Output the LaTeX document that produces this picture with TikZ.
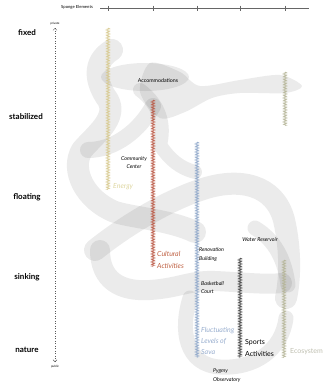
\documentclass[tikz,border=0pt]{standalone}
\usepackage{fontspec}
\setmainfont{Lato}
\usetikzlibrary{arrows.meta,decorations.pathmorphing}

\definecolor{energycol}{RGB}{214,200,140}
\definecolor{culturecol}{RGB}{185,85,65}
\definecolor{savacol}{RGB}{140,165,200}
\definecolor{ecocol}{RGB}{180,180,150}
\definecolor{energytxt}{RGB}{222,214,160}
\definecolor{culturetxt}{RGB}{190,95,65}
\definecolor{savatxt}{RGB}{150,172,205}
\definecolor{ecotxt}{RGB}{190,190,175}

\tikzstyle{level} = [
        font=\fontsize{8}{9}\selectfont\bfseries,
        inner sep=0pt
    ]
\tikzstyle{small} = [
        font=\fontsize{5.3}{8.8}\selectfont\itshape,
        inner sep=0pt,
        align=left
    ]
\tikzstyle{large} = [
        font=\fontsize{7}{11.2}\selectfont,
        inner sep=0pt,
        align=left
    ]
\tikzstyle{sponge} = [
        draw=black,
        draw opacity=0.08,
        line cap=round,
        line join=round
    ]
\tikzstyle{spongefill} = [
        fill=black,
        fill opacity=0.08
    ]
\tikzstyle{strand} = [
        decorate,
        decoration={zigzag, segment length=1.6pt, amplitude=1.8pt},
        line width=0.35pt
    ]

\begin{document}
\begin{tikzpicture}[x=1pt, y=-1pt]
        \useasboundingbox (0,0) rectangle (326,384);
        % sponge shapes
        \fill[spongefill] (145,77) ellipse [x radius=44, y radius=14];
        \fill[spongefill] plot[smooth cycle] coordinates {(150,63) (180,72)
            (200,86) (240,80) (280,75) (302,86) (285,93) (240,93) (212,98)
            (185,112) (160,118) (140,92)};
        \draw[sponge, line width=22pt] (112,50) .. controls (92,62) and (95,82) .. (108,100)
            .. controls (118,118) and (95,135) .. (82,150)
            .. controls (70,170) and (85,200) .. (115,212)
            .. controls (135,218) and (170,220) .. (195,232);
        \draw[sponge, line width=16pt] (88,150) .. controls (115,150) and (140,130) .. (153,106);
        \draw[sponge, line width=14pt] (140,90) .. controls (160,105) and (165,125) .. (160,145)
            .. controls (170,160) and (180,168) .. (195,172);
        \draw[sponge, line width=22pt] (95,250) .. controls (130,222) and (170,200) .. (200,190)
            .. controls (240,176) and (275,185) .. (284,220)
            .. controls (291,250) and (290,280) .. (286,298);
        \draw[sponge, line width=15pt] (255,228) .. controls (275,240) and (285,260) .. (288,285);
        \draw[sponge, line width=20pt] (100,250) .. controls (100,280) and (120,292) .. (150,290)
            .. controls (180,288) and (190,280) .. (215,281)
            .. controls (240,282) and (265,285) .. (282,283);
        \draw[sponge, line width=15pt] (190,298) .. controls (180,330) and (185,365) .. (220,367)
            .. controls (255,369) and (282,350) .. (286,318);
        % scale of elements
        \node(title) [font=\fontsize{4.2}{5}\selectfont, inner sep=0pt] at (77,7.5) {Sponge Elements};
        \coordinate (scalebeg) at (100,8);
        \coordinate (scaleend) at (309,8);
        \draw[gray!80!black, line width=0.5pt] (scalebeg) -- (scaleend);
        \foreach \x in {108,153,197,240,285}
            \draw[gray!80!black, line width=0.5pt] (\x,5.5) -- (\x,10.5);
        % levels
        \node(fixd) [level] at (27,33) {fixed};
        \node(stab) [level] at (26,117) {stabilized};
        \node(flot) [level] at (27,197) {floating};
        \node(sink) [level] at (27,277) {sinking};
        \node(natr) [level] at (27,350) {nature};
        % private / public axis
        \node(priv) [font=\fontsize{3}{4}\selectfont, inner sep=0pt] at (55,24) {private};
        \node(publ) [font=\fontsize{3}{4}\selectfont, inner sep=0pt] at (55,367) {public};
        \coordinate (privtip) at (55,28);
        \coordinate (publtip) at (55,362);
        \draw[dotted, line width=0.5pt, gray!70!black,
            {Straight Barb[length=2pt, width=4pt, line width=0.4pt]}-{Straight Barb[length=2pt, width=4pt, line width=0.4pt]}]
            (privtip) -- (publtip);
        % strands
        \coordinate (enertop) at (108,28);
        \coordinate (enerbot) at (108,190);
        \coordinate (cultop) at (153,100);
        \coordinate (culbot) at (153,267);
        \coordinate (savatop) at (197,142);
        \coordinate (savabot) at (197,358);
        \coordinate (sporttop) at (240,258);
        \coordinate (sportbot) at (240,358);
        \coordinate (ecotop) at (285,72);
        \coordinate (ecomid) at (285,126);
        \coordinate (ecolow) at (284,260);
        \coordinate (ecobot) at (284,358);
        \draw[strand, draw=energycol] (enertop) -- (enerbot);
        \draw[strand, draw=culturecol] (cultop) -- (culbot);
        \draw[strand, draw=savacol] (savatop) -- (savabot);
        \draw[strand, draw=black!75] (sporttop) -- (sportbot);
        \draw[strand, draw=ecocol] (ecotop) -- (ecomid);
        \draw[strand, draw=ecocol] (ecolow) -- (ecobot);
        % labels
        \node(accom) [small, font=\fontsize{5.3}{6}\selectfont] at (158,81) {Accommodations};
        \node(comm) [small, align=center] at (134,162.5) {Community\\Center};
        \node(ener) [large, energytxt, font=\fontsize{7}{8}\selectfont\itshape, anchor=west] at (113,187) {Energy};
        \node(cult) [large, culturetxt, font=\fontsize{7}{12}\selectfont\itshape, anchor=west] at (157,260) {Cultural\\Activities};
        \node(watr) [small] at (260,240) {Water Reservoir};
        \node(renv) [small, anchor=west] at (199,254.5) {Renovation\\Building};
        \node(bask) [small, anchor=west] at (201,287.5) {Basketball\\Court};
        \node(sava) [large, savatxt, font=\fontsize{7}{11}\selectfont\itshape, anchor=west] at (201,341) {Fluctuating\\Levels of\\Sava};
        \node(sprt) [large, anchor=west] at (245,348) {Sports\\Activities};
        \node(ecos) [large, ecotxt, anchor=west] at (290,352) {Ecosystem};
        \node(pygm) [small, anchor=west] at (213,375.5) {Pygmy\\Observatory};
    \end{tikzpicture}
\end{document}
